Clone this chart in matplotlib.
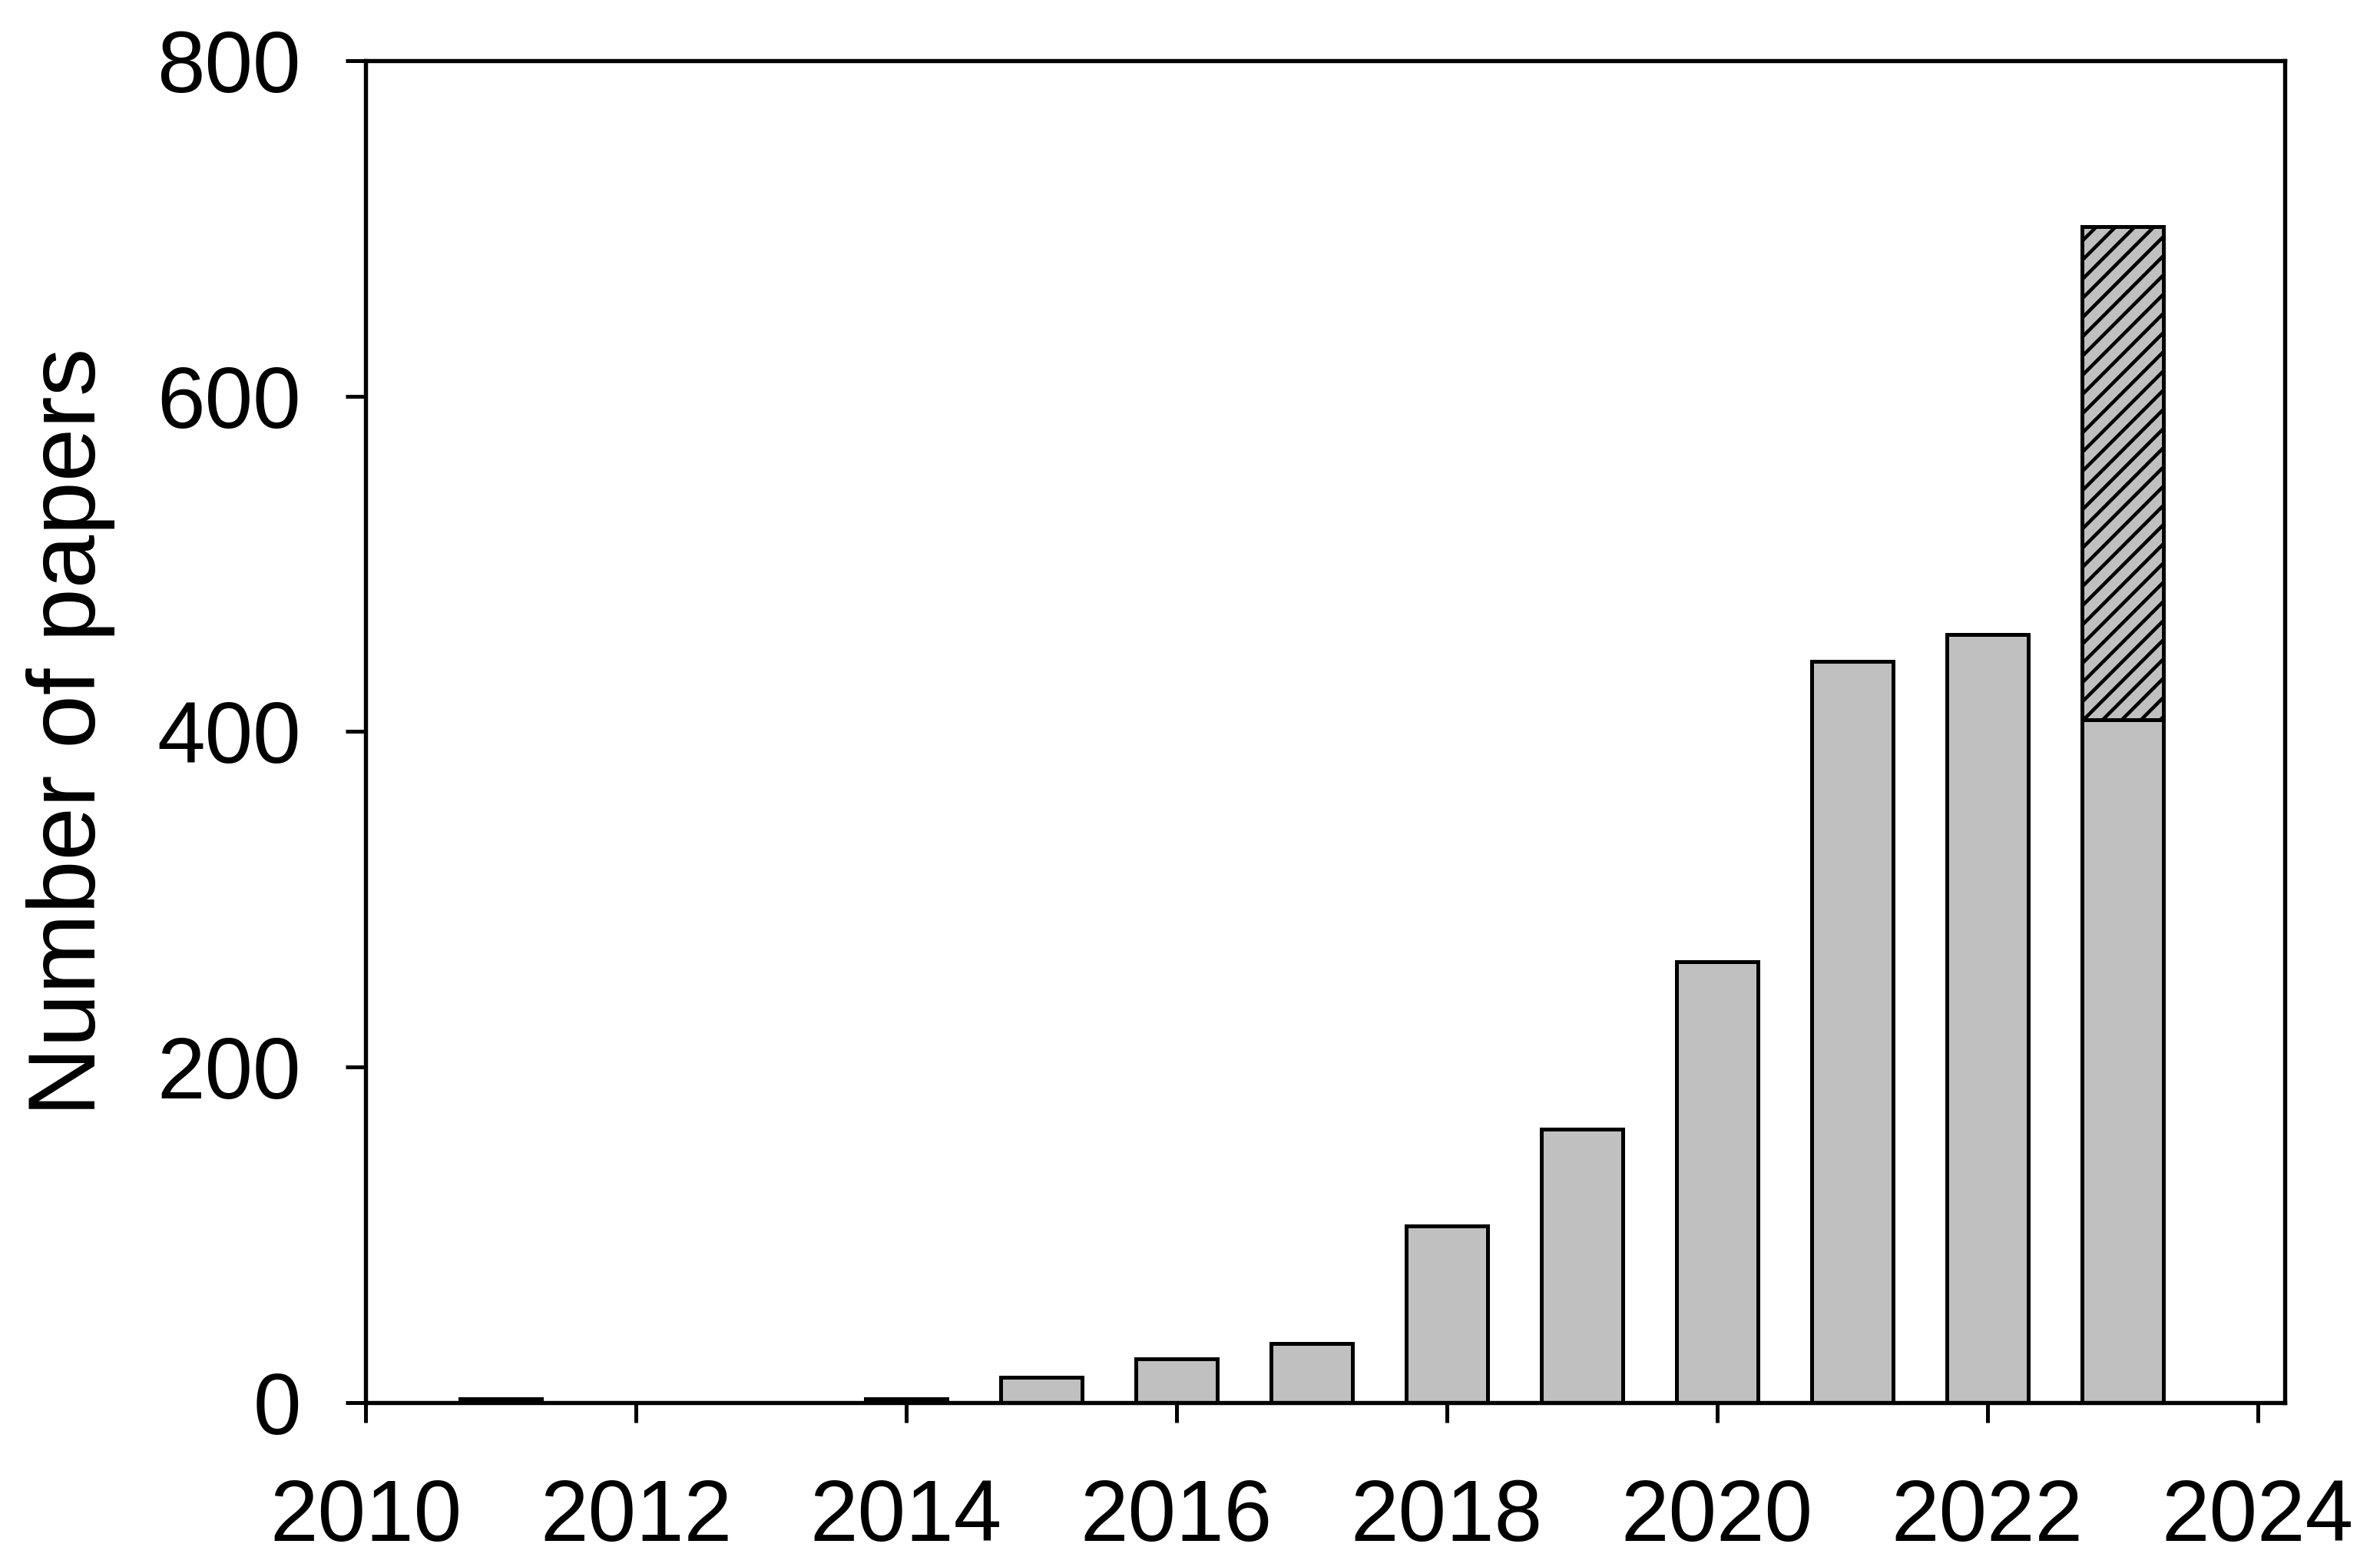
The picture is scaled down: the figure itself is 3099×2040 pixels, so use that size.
import matplotlib
matplotlib.use('Agg')
import matplotlib.pyplot as plt

# Data
years = [2011, 2012, 2013, 2014, 2015, 2016, 2017, 2018, 2019, 2020, 2021, 2022, 2023]
papers = [2, 0, 0, 2, 15, 26, 35, 105, 163, 263, 442, 458, 407]
extra_years = [2023]
extra_papers = [294]   # hatched part stacked on 2023 (total ~701)
xticks = [2010, 2012, 2014, 2016, 2018, 2020, 2022, 2024]
yticks = [0, 200, 400, 600, 800]

plt.rcParams['font.family'] = ['Liberation Sans', 'DejaVu Sans']
plt.rcParams['hatch.linewidth'] = 1.1
plt.rcParams['hatch.color'] = 'black'

DPI = 300
fig = plt.figure(figsize=(3099 / DPI, 2040 / DPI), dpi=DPI)
ax = fig.add_axes([476 / 3099, 1 - 1825.7 / 2040, (2975 - 476) / 3099, (1825.7 - 79.2) / 2040])

lw = 1.2
ax.bar(years, papers, width=0.6, color='#C0C0C0', edgecolor='black', linewidth=lw, zorder=2)
ax.bar(extra_years, extra_papers, bottom=[papers[years.index(y)] for y in extra_years],
       width=0.6, color='#C0C0C0', edgecolor='black', linewidth=lw, hatch='////', zorder=2)

ax.set_xlim(2010, 2024.2)
ax.set_ylim(0, 800)
ax.set_xticks(xticks)
ax.set_yticks(yticks)

for s in ax.spines.values():
    s.set_linewidth(1.3)
    s.set_zorder(3)

ax.tick_params(axis='both', direction='out', length=6.2, width=1.2, labelsize=27)
ax.tick_params(axis='x', pad=17.5, top=False)
ax.tick_params(axis='y', pad=14, right=False)

fig.text(92 / 3099, 0.533, 'Number of papers', rotation=90, ha='center', va='center', fontsize=30)

fig.savefig('out.png', dpi=DPI)
